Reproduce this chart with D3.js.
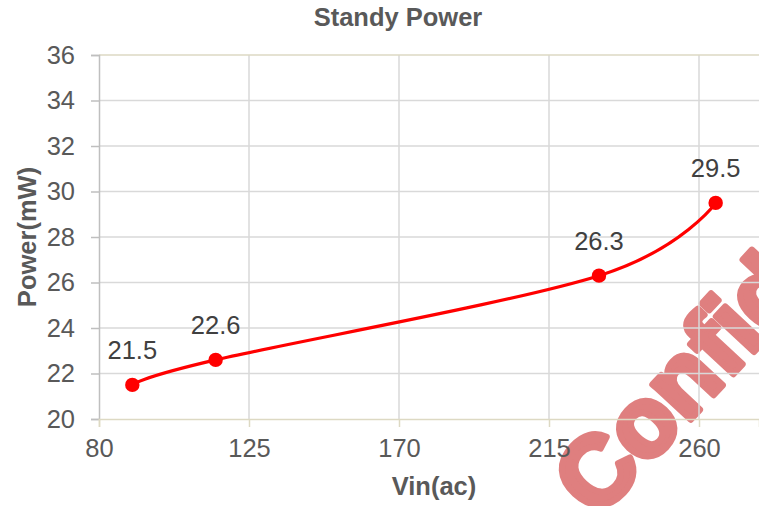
<!DOCTYPE html>
<html><head><meta charset="utf-8">
<script src="https://cdn.jsdelivr.net/npm/d3@7"></script>
<style>html,body{margin:0;padding:0;background:#fff;overflow:hidden}svg{display:block}</style>
</head><body>
<script>
const vin = [90, 115, 230, 265];
const power = [21.5, 22.6, 26.3, 29.5];
const xTicks = [80, 125, 170, 215, 260];
const yTicks = [20, 22, 24, 26, 28, 30, 32, 34, 36];
const title = "Standy Power";
const xLabel = "Vin(ac)";
const yLabel = "Power(mW)";
const watermark = "Confidential";

const W = 759, H = 506;
const font = "'Liberation Sans', Arial, sans-serif";
const svg = d3.select("body").append("svg").attr("width", W).attr("height", H);

const x = d3.scaleLinear().domain([80, 278]).range([99, 759]);
const y = d3.scaleLinear().domain([20, 36]).range([419, 55]);

// watermark (behind)
svg.append("text")
  .attr("transform", "translate(597,520) rotate(-47)")
  .attr("font-family", font).attr("font-weight", "bold").attr("font-size", 98)
  .attr("fill", "#df7f7f").attr("stroke", "#df7f7f").attr("stroke-width", 6.5)
  .attr("stroke-linejoin", "round").text(watermark);

// vertical gridlines
svg.append("g").selectAll("line").data(xTicks.slice(1)).join("line")
  .attr("x1", d => x(d)).attr("x2", d => x(d)).attr("y1", y(36)).attr("y2", y(20))
  .attr("stroke", "#d9d9d9").attr("stroke-width", 1.5);
// horizontal gridlines
svg.append("g").selectAll("line").data(yTicks.filter(d => d > 20 && d < 36)).join("line")
  .attr("x1", x(80)).attr("x2", W).attr("y1", d => y(d)).attr("y2", d => y(d))
  .attr("stroke", "#d9d9d9").attr("stroke-width", 1.5);
// top line
svg.append("line").attr("x1", x(80)).attr("x2", W).attr("y1", y(36)).attr("y2", y(36))
  .attr("stroke", "#ddd9c3").attr("stroke-width", 1.5);

// y axis
const yAxis = d3.axisLeft(y).tickValues(yTicks).tickSize(8).tickPadding(16);
const gy = svg.append("g").attr("transform", `translate(${x(80)},0)`).call(yAxis);
gy.select(".domain").attr("stroke", "#bfbfbf").attr("stroke-width", 1.5);
gy.selectAll(".tick line").attr("stroke", "#bfbfbf").attr("stroke-width", 1.5);
gy.selectAll(".tick text").attr("font-family", font).attr("font-size", 25.5).attr("fill", "#595959");

// x axis
const xAxis = d3.axisBottom(x).tickValues(xTicks).tickSize(8).tickPadding(12);
const gx = svg.append("g").attr("transform", `translate(0,${y(20)})`).call(xAxis);
gx.select(".domain").attr("stroke", "#ddd9c3").attr("stroke-width", 1.5);
gx.selectAll(".tick line").attr("stroke", "#ddd9c3").attr("stroke-width", 1.5);
gx.selectAll(".tick text").attr("font-family", font).attr("font-size", 25.5).attr("fill", "#595959");

// line
const pts = vin.map((v, i) => [v, power[i]]);
svg.append("path").datum(pts)
  .attr("d", d3.line().x(d => x(d[0])).y(d => y(d[1])).curve(d3.curveCardinal.tension(0)))
  .attr("fill", "none").attr("stroke", "#ff0000").attr("stroke-width", 3.2);
svg.append("g").selectAll("circle").data(pts).join("circle")
  .attr("cx", d => x(d[0])).attr("cy", d => y(d[1])).attr("r", 7.2).attr("fill", "#ff0000");
svg.append("g").selectAll("text").data(pts).join("text")
  .attr("x", d => x(d[0])).attr("y", d => y(d[1]) - 26)
  .attr("text-anchor", "middle").attr("font-family", font).attr("font-size", 25.5)
  .attr("fill", "#404040").text(d => d[1].toFixed(1));

// titles
svg.append("text").attr("x", 398).attr("y", 26).attr("text-anchor", "middle")
  .attr("font-family", font).attr("font-weight", "bold").attr("font-size", 25.5)
  .attr("fill", "#595959").text(title);
svg.append("text").attr("x", 434).attr("y", 495).attr("text-anchor", "middle")
  .attr("font-family", font).attr("font-weight", "bold").attr("font-size", 25.5)
  .attr("fill", "#595959").text(xLabel);
svg.append("text").attr("transform", "translate(36,237) rotate(-90)").attr("text-anchor", "middle")
  .attr("font-family", font).attr("font-weight", "bold").attr("font-size", 25.5)
  .attr("fill", "#595959").text(yLabel);
</script>
</body></html>
